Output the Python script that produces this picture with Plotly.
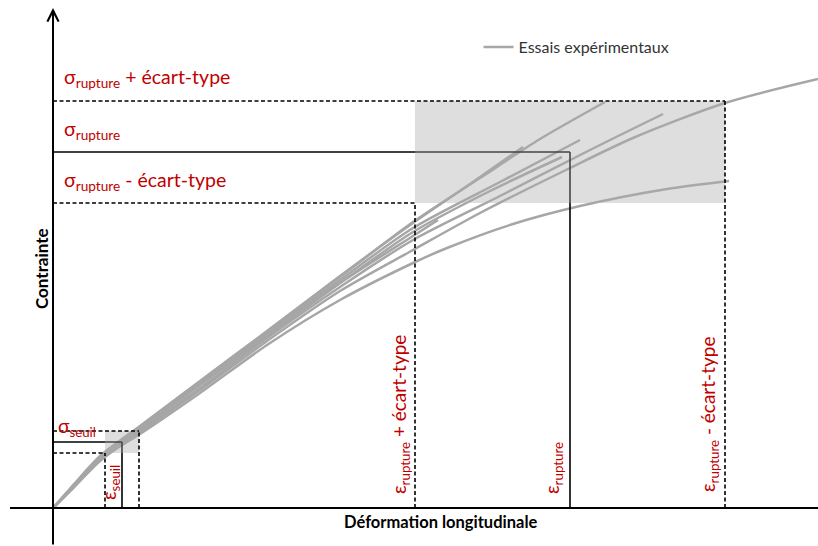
import plotly.graph_objects as go

# Experimental stress-strain curves (strain, stress in arbitrary units)
essai_1_x = [0, 0.22, 0.47, 0.69, 0.87, 1.47, 2.14, 2.87, 3.60, 4.27, 4.87, 5.52]
essai_1_y = [0, 0.24, 0.51, 0.68, 0.81, 1.26, 1.76, 2.31, 2.86, 3.30, 3.69, 4.06]

essai_2_x = [0, 0.22, 0.47, 0.69, 0.87, 1.47, 2.14, 2.87, 3.60, 4.17, 4.70]
essai_2_y = [0, 0.25, 0.52, 0.69, 0.82, 1.27, 1.77, 2.32, 2.85, 3.24, 3.61]

essai_3_x = [0, 0.22, 0.47, 0.69, 0.87, 1.47, 2.14, 2.87, 3.60, 4.47, 5.27]
essai_3_y = [0, 0.24, 0.50, 0.67, 0.80, 1.24, 1.74, 2.28, 2.80, 3.26, 3.68]

essai_4_x = [0, 0.22, 0.47, 0.69, 0.87, 1.47, 2.14, 2.87, 3.60, 4.37, 5.09]
essai_4_y = [0, 0.23, 0.50, 0.67, 0.79, 1.23, 1.72, 2.25, 2.76, 3.17, 3.51]

essai_5_x = [0, 0.22, 0.47, 0.69, 0.87, 1.47, 2.14, 2.87, 3.60, 3.85]
essai_5_y = [0, 0.24, 0.51, 0.68, 0.80, 1.24, 1.73, 2.25, 2.72, 2.88]

essai_6_x = [0, 0.22, 0.47, 0.69, 0.87, 1.47, 2.14, 2.87, 3.60, 4.47, 5.37, 6.10]
essai_6_y = [0, 0.23, 0.49, 0.65, 0.77, 1.20, 1.70, 2.21, 2.68, 3.12, 3.58, 3.94]

essai_7_x = [0, 0.22, 0.47, 0.69, 0.87, 1.47, 2.14, 2.87, 3.60, 4.27, 5.17, 5.80, 6.72, 7.65]
essai_7_y = [0, 0.22, 0.48, 0.64, 0.76, 1.18, 1.67, 2.17, 2.58, 2.95, 3.40, 3.70, 4.05, 4.29]

essai_8_x = [0, 0.22, 0.47, 0.69, 0.87, 1.47, 2.14, 2.87, 3.60, 3.94, 4.60, 5.27, 6.14, 6.76]
essai_8_y = [0, 0.22, 0.47, 0.63, 0.74, 1.15, 1.63, 2.08, 2.45, 2.60, 2.84, 3.02, 3.19, 3.27]

essais = [
    (essai_1_x, essai_1_y), (essai_2_x, essai_2_y), (essai_3_x, essai_3_y),
    (essai_4_x, essai_4_y), (essai_5_x, essai_5_y), (essai_6_x, essai_6_y),
    (essai_7_x, essai_7_y), (essai_8_x, essai_8_y),
]

# Rupture statistics: mean and mean +/- standard deviation
sigma_levels = [3.05, 3.56, 4.07]          # sigma - std, sigma, sigma + std
eps_levels = [3.62, 5.17, 6.72]            # strain at sigma + std, mean, sigma - std
# Threshold (seuil) statistics
sigma_seuil_levels = [0.55, 0.66, 0.77]
eps_seuil_levels = [0.52, 0.69, 0.86]

RED = "#c00000"
GREY = "#a6a6a6"
FONT = "Lato"

fig = go.Figure()
for i, (xs, ys) in enumerate(essais):
    fig.add_trace(go.Scatter(
        x=xs, y=ys, mode="lines",
        line=dict(color=GREY, width=2.5, shape="spline", smoothing=0.8),
        name="Essais expérimentaux", legendgroup="essais",
        showlegend=(i == 0), hoverinfo="skip",
    ))

shapes = []


def corner(x, y, dashed):
    """Horizontal line from the stress axis and vertical line down to the strain axis."""
    style = dict(color="black", width=1.6, dash="4px,2.5px" if dashed else "solid")
    layer = "above"
    shapes.append(dict(type="line", xref="x", yref="y", x0=0, x1=x, y0=y, y1=y,
                       line=style, layer=layer))
    shapes.append(dict(type="line", xref="x", yref="y", x0=x, x1=x, y0=0, y1=y,
                       line=style, layer=layer))


# solid mean lines first, then the translucent bands, then the dashed bounds
corner(eps_levels[1], sigma_levels[1], False)
corner(eps_seuil_levels[1], sigma_seuil_levels[1], False)

for xs, ys in [(eps_levels, sigma_levels), (eps_seuil_levels, sigma_seuil_levels)]:
    shapes.append(dict(type="rect", xref="x", yref="y",
                       x0=xs[0], x1=xs[2], y0=ys[0], y1=ys[2],
                       fillcolor="rgba(172,172,172,0.4)", line=dict(width=0),
                       layer="above"))

corner(eps_levels[0], sigma_levels[0], True)
corner(eps_levels[2], sigma_levels[2], True)
corner(eps_seuil_levels[0], sigma_seuil_levels[0], True)
corner(eps_seuil_levels[2], sigma_seuil_levels[2], True)

# strain axis
shapes.append(dict(type="line", xref="x", yref="y", x0=-0.43, x1=7.65, y0=0, y1=0,
                   line=dict(color="black", width=2), layer="above"))

annotations = []
# stress axis with arrow
annotations.append(dict(x=0, y=5.0, ax=0, ay=-0.38, xref="x", yref="y",
                        axref="x", ayref="y", text="", showarrow=True,
                        arrowhead=5, arrowsize=1.1, arrowwidth=2,
                        arrowcolor="black", standoff=0))


def label(text, x, y, angle=0, size=19, xanchor="left"):
    annotations.append(dict(x=x, y=y, xref="x", yref="y", text=text,
                            showarrow=False, textangle=angle,
                            xanchor=xanchor, yanchor="middle",
                            font=dict(family=FONT, size=size, color=RED)))


label("σ<sub>rupture</sub> + écart-type", 0.09, 4.30, size=19.5)
label("σ<sub>rupture</sub>", 0.09, 3.78, size=19.5)
label("σ<sub>rupture</sub> - écart-type", 0.09, 3.27, size=19.5)
label("σ<sub>seuil</sub>", 0.03, 0.81)
label("ε<sub>seuil</sub>", 0.57, 0.25, angle=-90, xanchor="center")
label("ε<sub>rupture</sub> + écart-type", 3.47, 0.93, angle=-90, xanchor="center")
label("ε<sub>rupture</sub>", 5.00, 0.40, angle=-90, xanchor="center")
label("ε<sub>rupture</sub> - écart-type", 6.56, 0.93, angle=-90, xanchor="center")

annotations.append(dict(x=-0.12, y=2.39, xref="x", yref="y", text="<b>Contrainte</b>",
                        showarrow=False, textangle=-90,
                        font=dict(family=FONT, size=17, color="black")))
annotations.append(dict(x=3.88, y=-0.135, xref="x", yref="y",
                        text="<b>Déformation longitudinale</b>", showarrow=False,
                        font=dict(family=FONT, size=16.5, color="black")))

fig.update_layout(
    width=818, height=546,
    margin=dict(l=0, r=0, t=0, b=0),
    paper_bgcolor="white", plot_bgcolor="white",
    xaxis=dict(range=[-0.53, 7.65], visible=False, fixedrange=True),
    yaxis=dict(range=[-0.38, 5.08], visible=False, fixedrange=True),
    shapes=shapes, annotations=annotations,
    showlegend=True,
    legend=dict(x=0.585, y=0.945, xanchor="left", yanchor="top",
                bgcolor="rgba(0,0,0,0)", itemwidth=30,
                font=dict(family=FONT, size=16, color="#333333")),
)

fig.write_html("out.html")
